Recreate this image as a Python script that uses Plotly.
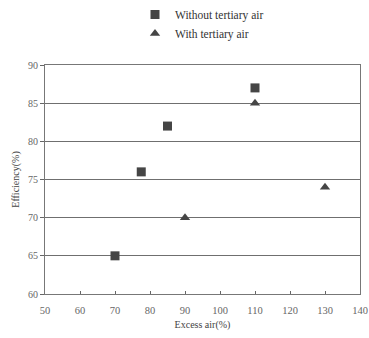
import plotly.graph_objects as go

without_x = [70, 77.5, 85, 110]
without_y = [65, 76, 82, 87]
with_x = [90, 110, 130]
with_y = [70, 85, 74]

x_ticks = [50, 60, 70, 80, 90, 100, 110, 120, 130, 140]
y_ticks = [60, 65, 70, 75, 80, 85, 90]

serif = "Liberation Serif"

fig = go.Figure()
fig.add_trace(go.Scatter(
    x=without_x, y=without_y, mode="markers", name="Without tertiary air",
    marker=dict(symbol="square", size=9, color="#454545"),
))
fig.add_trace(go.Scatter(
    x=with_x, y=with_y, mode="markers", name="With tertiary air",
    marker=dict(symbol="triangle-up", size=9, color="#454545"),
))

fig.update_layout(
    width=369, height=338,
    margin=dict(l=45, r=9, t=65, b=44, autoexpand=False),
    paper_bgcolor="white", plot_bgcolor="white",
    font=dict(family=serif, size=10, color="#555555"),
    showlegend=True,
    legend=dict(
        x=(135 - 45) / 315, y=1 + 65 / 229, xanchor="left", yanchor="top",
        font=dict(family=serif, size=11.5, color="#333333"),
        bgcolor="rgba(0,0,0,0)", tracegroupgap=0, itemwidth=30,
    ),
    xaxis=dict(
        range=[50, 140], tickvals=x_ticks, ticks="inside", ticklen=3,
        tickcolor="#666666", showgrid=False, zeroline=False,
        showline=True, linecolor="#777777", linewidth=1, mirror=True,
        ticklabelstandoff=6,
        title=dict(text="Excess air(%)", font=dict(family=serif, size=10, color="#444444"), standoff=6),
        tickfont=dict(family=serif, size=10.5, color="#666666"),
    ),
    yaxis=dict(
        range=[60, 90], tickvals=y_ticks, ticks="outside", ticklen=4,
        tickcolor="#666666", showgrid=True, gridcolor="#6f6f6f", gridwidth=1,
        zeroline=False, showline=True, linecolor="#777777", linewidth=1, mirror=True,
        title=dict(text="Efficiency(%)", font=dict(family=serif, size=10, color="#444444"), standoff=6),
        tickfont=dict(family=serif, size=10, color="#666666"),
    ),
)

fig.write_html("out.html")
